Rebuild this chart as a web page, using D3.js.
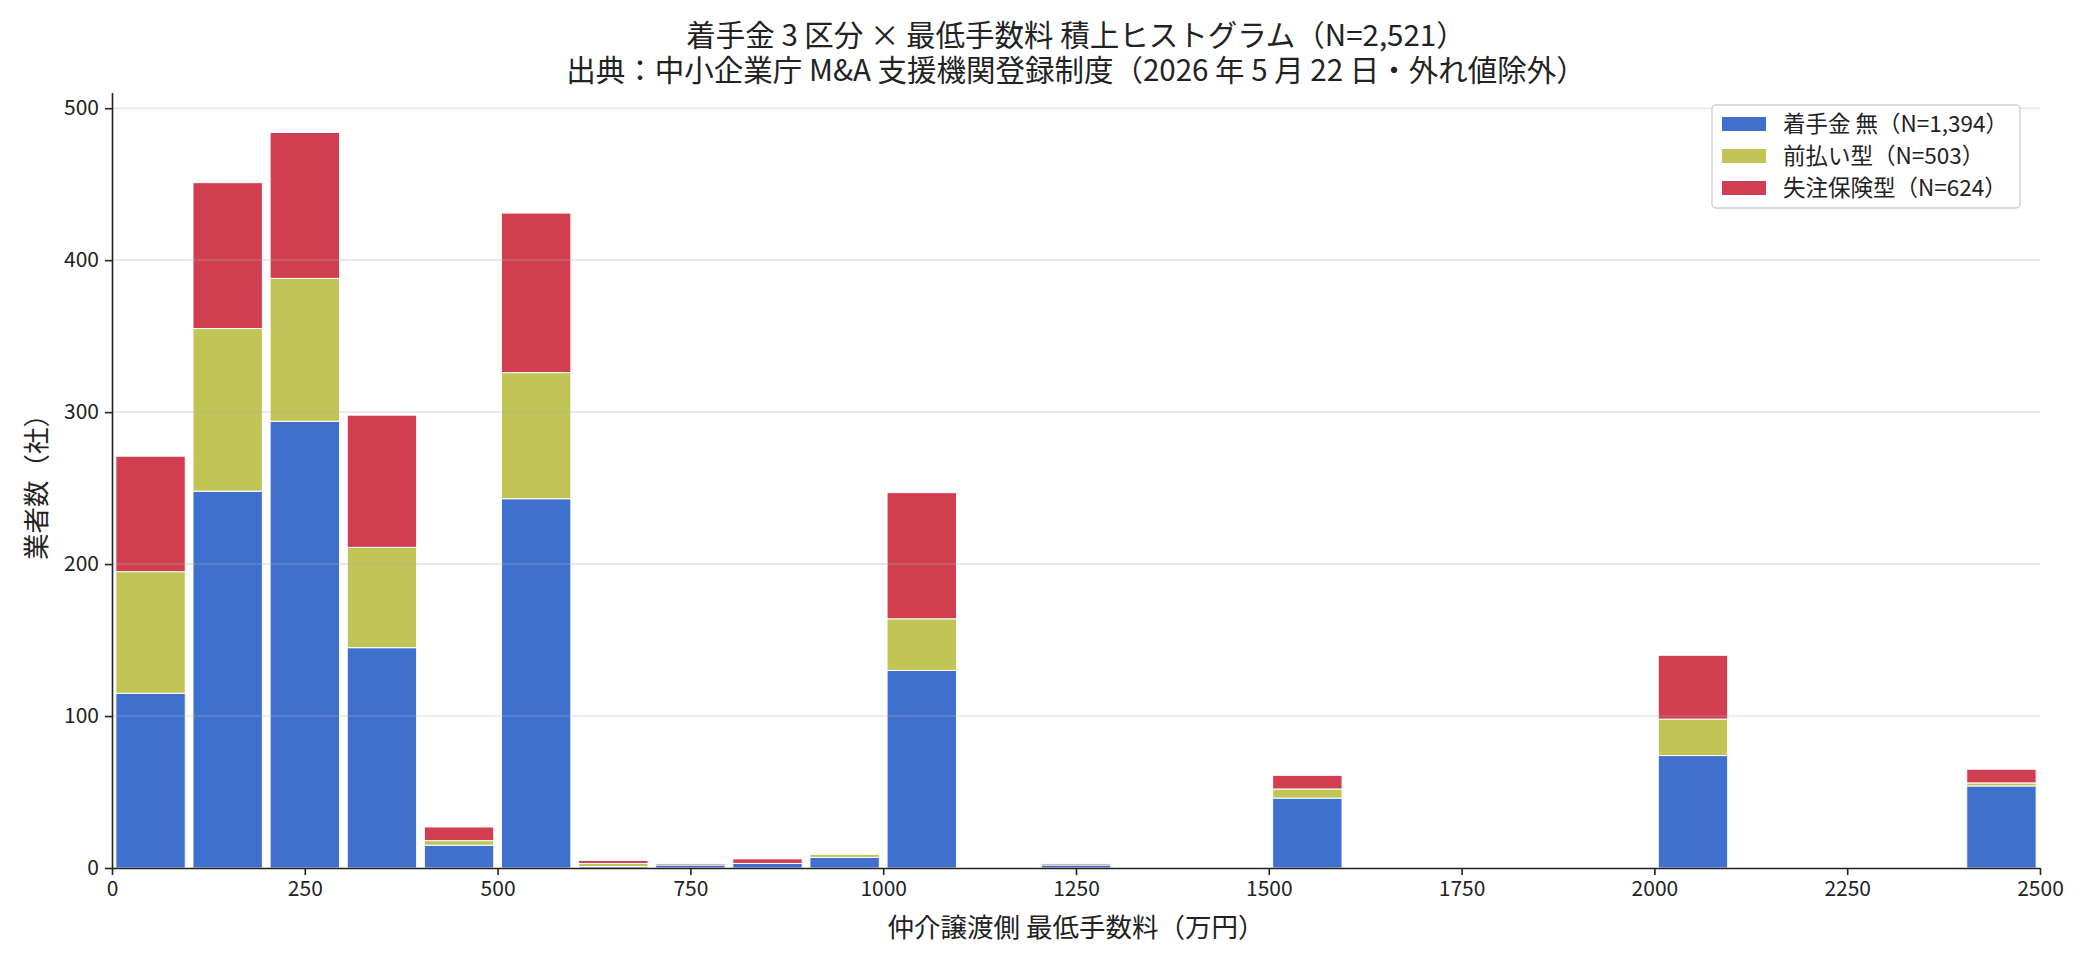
<!DOCTYPE html>
<html>
  <head>
    <meta charset="utf-8" />
    <style>
      body { margin: 0; background: #fff; }
      text { font-family: "Noto Sans CJK JP", "Noto Sans", sans-serif; fill: #222; }
    </style>
  </head>
  <body>
    <svg class="chart"></svg>

    <script src="https://d3js.org/d3.v7.min.js"></script>
    <script>
      // bin start of each 100 万円 bin
      var binStarts = [0, 100, 200, 300, 400, 500, 600, 700, 800, 900, 1000, 1100, 1200,
        1300, 1400, 1500, 1600, 1700, 1800, 1900, 2000, 2100, 2200, 2300, 2400];
      var binWidth = 100;

      var seriesNames = ["着手金 無（N=1,394）", "前払い型（N=503）", "失注保険型（N=624）"];
      var noRetainer = [115, 248, 294, 145, 15, 243, 1, 2, 3, 7, 130, 0, 2,
        0, 0, 46, 0, 0, 0, 0, 74, 0, 0, 0, 54];
      var prepaid = [80, 107, 94, 66, 3, 83, 2, 0, 0, 2, 34, 0, 0,
        0, 0, 6, 0, 0, 0, 0, 24, 0, 0, 0, 2];
      var insurance = [76, 96, 96, 87, 9, 105, 2, 1, 3, 0, 83, 0, 1,
        0, 0, 9, 0, 0, 0, 0, 42, 0, 0, 0, 9];
      var colors = ["#4070ce", "#c0c555", "#d03e50"];

      var xTicks = [0, 250, 500, 750, 1000, 1250, 1500, 1750, 2000, 2250, 2500];
      var yTicks = [0, 100, 200, 300, 400, 500];

      var width = 2080,
        height = 960,
        plotL = 112,
        plotR = 2040,
        plotT = 93,
        plotB = 868;

      var svg = d3.select(".chart").attr("width", width).attr("height", height);

      var x = d3.scaleLinear().domain([0, 2500]).range([plotL, plotR]);
      var y = d3.scaleLinear().domain([0, 510]).range([plotB, plotT]);

      var rows = binStarts.map(function (b, i) {
        return { start: b, s0: noRetainer[i], s1: prepaid[i], s2: insurance[i] };
      });
      var stack = d3.stack().keys(["s0", "s1", "s2"])(rows);

      // bars (rwidth 0.9)
      var layer = svg
        .selectAll("g.layer")
        .data(stack)
        .enter()
        .append("g")
        .attr("class", "layer")
        .attr("fill", function (d, i) { return colors[i]; });

      layer
        .selectAll("rect")
        .data(function (d) { return d.filter(function (p) { return p[1] - p[0] > 0; }); })
        .enter()
        .append("rect")
        .attr("x", function (d) { return x(d.data.start + binWidth * 0.05); })
        .attr("width", function (d) { return x(binWidth * 0.9) - x(0); })
        .attr("y", function (d) { return y(d[1]); })
        .attr("height", function (d) { return y(d[0]) - y(d[1]); })
        .attr("stroke", "#fff")
        .attr("stroke-width", 1);

      // grid lines drawn over bars, faint
      svg
        .append("g")
        .selectAll("line")
        .data(yTicks.slice(1))
        .enter()
        .append("line")
        .attr("x1", plotL)
        .attr("x2", plotR)
        .attr("y1", function (d) { return y(d); })
        .attr("y2", function (d) { return y(d); })
        .attr("stroke", "#b0b0b0")
        .attr("stroke-opacity", 0.3)
        .attr("stroke-width", 1.6);

      // axes
      var xAxis = svg
        .append("g")
        .attr("transform", "translate(0," + plotB + ")")
        .call(d3.axisBottom(x).tickValues(xTicks).tickSize(7).tickPadding(6).tickFormat(d3.format("d")));
      var yAxis = svg
        .append("g")
        .attr("transform", "translate(" + plotL + ",0)")
        .call(d3.axisLeft(y).tickValues(yTicks).tickSize(7).tickPadding(6).tickFormat(d3.format("d")));

      [xAxis, yAxis].forEach(function (a) {
        a.select(".domain").attr("stroke", "#222").attr("stroke-width", 1.6);
        a.selectAll(".tick line").attr("stroke", "#222").attr("stroke-width", 1.6);
        a.selectAll(".tick text")
          .attr("font-size", 21)
          .attr("font-family", '"Noto Sans CJK JP", sans-serif')
          .attr("fill", "#222");
      });
      // spine reaches the full axes height
      yAxis.select(".domain").attr("d", "M0.5," + plotB + "V" + plotT);
      xAxis.select(".domain").attr("d", "M" + plotL + ",0.5H" + plotR);

      // titles
      svg.append("text")
        .attr("x", (plotL + plotR) / 2)
        .attr("y", 46)
        .attr("text-anchor", "middle")
        .attr("font-size", 29.5)
        .text("着手金 3 区分 × 最低手数料 積上ヒストグラム（N=2,521）");
      svg.append("text")
        .attr("x", (plotL + plotR) / 2)
        .attr("y", 81)
        .attr("text-anchor", "middle")
        .attr("font-size", 29.5)
        .text("出典：中小企業庁 M&A 支援機関登録制度（2026 年 5 月 22 日・外れ値除外）");

      svg.append("text")
        .attr("x", (plotL + plotR) / 2)
        .attr("y", 937)
        .attr("text-anchor", "middle")
        .attr("font-size", 26.5)
        .text("仲介譲渡側 最低手数料（万円）");
      svg.append("text")
        .attr("transform", "translate(46," + (plotT + plotB) / 2 + ") rotate(-90)")
        .attr("text-anchor", "middle")
        .attr("font-size", 26.5)
        .text("業者数（社）");

      // legend
      var lg = svg.append("g").attr("transform", "translate(1712,105)");
      lg.append("rect")
        .attr("width", 308)
        .attr("height", 103)
        .attr("rx", 4)
        .attr("fill", "#fff")
        .attr("fill-opacity", 0.8)
        .attr("stroke", "#d0d0d0")
        .attr("stroke-width", 1.4);
      var item = lg
        .selectAll("g.item")
        .data(seriesNames)
        .enter()
        .append("g")
        .attr("transform", function (d, i) { return "translate(0," + (19 + i * 32) + ")"; });
      item.append("rect")
        .attr("x", 10)
        .attr("y", -7)
        .attr("width", 44)
        .attr("height", 14)
        .attr("fill", function (d, i) { return colors[i]; });
      item.append("text")
        .attr("x", 71)
        .attr("y", 0)
        .attr("dy", "0.36em")
        .attr("font-size", 22.5)
        .text(function (d) { return d; });
    </script>
  </body>
</html>
